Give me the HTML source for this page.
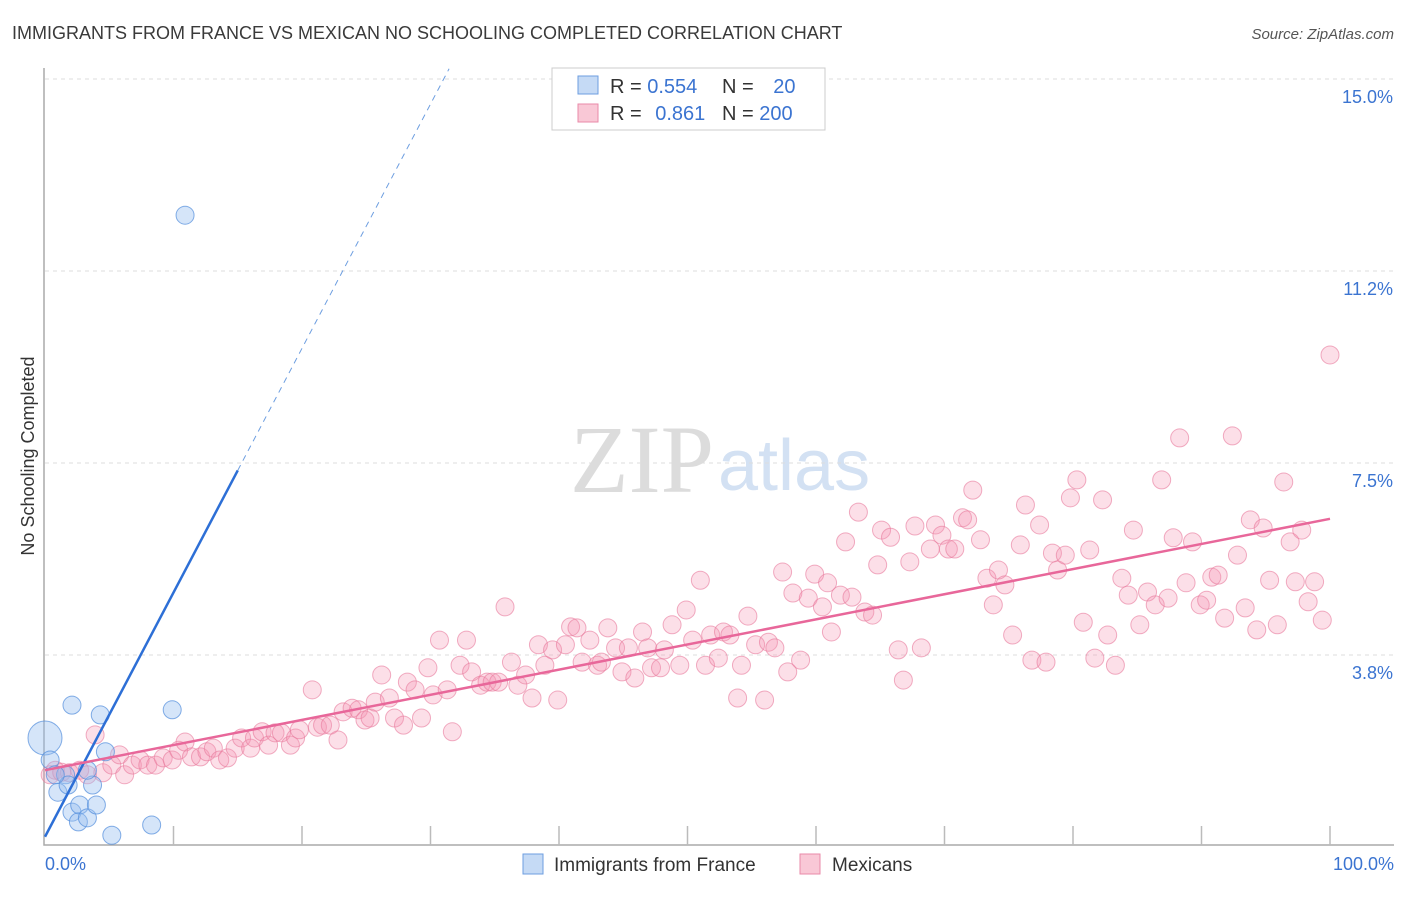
<!DOCTYPE html>
<html><head><meta charset="utf-8"><style>
body{margin:0;background:#fff;font-family:"Liberation Sans",sans-serif}
</style></head><body>
<svg id="chart" width="1406" height="892" xmlns="http://www.w3.org/2000/svg" font-family="Liberation Sans, sans-serif">
<text x="12" y="39" font-size="18" fill="#3a3a3a">IMMIGRANTS FROM FRANCE VS MEXICAN NO SCHOOLING COMPLETED CORRELATION CHART</text>
<text x="1394" y="39" font-size="15" fill="#555" font-style="italic" text-anchor="end">Source: ZipAtlas.com</text>
<text x="714" y="492" font-size="96" fill="#dcdcdc" style="font-family:'Liberation Serif',serif" text-anchor="end">ZIP</text>
<text x="718" y="490" font-size="72" fill="#d3e1f3">atlas</text>
<g id="grid"></g><g id="axes"></g>
<text transform="translate(34,456) rotate(-90)" font-size="18" fill="#333" text-anchor="middle">No Schooling Completed</text>
<g id="pink"></g><g id="blue"></g><g id="lines"></g>
<g>
<rect x="552" y="68" width="273" height="62" fill="#fff" stroke="#ccc"/>
<rect x="578" y="76" width="20" height="18" fill="#c5daf5" stroke="#6d9ee0"/>
<rect x="578" y="104" width="20" height="18" fill="#f9c8d6" stroke="#e98aa8"/>
<text x="610" y="93" font-size="20" fill="#333">R = <tspan fill="#3b74d1">0.554</tspan></text>
<text x="722" y="93" font-size="20" fill="#333">N = <tspan fill="#3b74d1" dx="14">20</tspan></text>
<text x="610" y="120" font-size="20" fill="#333">R = <tspan fill="#3b74d1" dx="8">0.861</tspan></text>
<text x="722" y="120" font-size="20" fill="#333">N = <tspan fill="#3b74d1">200</tspan></text>
</g>
<g>
<rect x="523" y="854" width="20" height="20" fill="#c5daf5" stroke="#6d9ee0"/>
<text x="554" y="871" font-size="19" fill="#333">Immigrants from France</text>
<rect x="800" y="854" width="20" height="20" fill="#f9c8d6" stroke="#e98aa8"/>
<text x="832" y="871" font-size="19" fill="#333">Mexicans</text>
</g>
</svg>
<script>
const yTicks=[3.75,7.5,11.25,15];
const yTickLabels=["3.8%","7.5%","11.2%","15.0%"];
const xTickVals=[10,20,30,40,50,60,70,80,90,100];
const blueX=[0,0.4,1.0,1.6,1.8,2.1,2.1,2.7,2.6,3.3,3.7,4.0,4.3,4.7,3.3,5.2,8.3,9.9,10.9,0.8];
const blueY=[2.13,1.70,1.07,1.41,1.21,2.77,0.68,0.82,0.49,0.57,1.21,0.82,2.58,1.86,1.50,0.23,0.43,2.68,12.34,1.41];
const pinkX=[0.4,0.8,1.3,1.9,2.7,3.3,3.9,4.5,5.2,5.8,6.2,6.8,7.4,8.0,8.6,9.2,9.9,10.4,10.9,11.4,12.1,12.6,13.1,13.6,14.2,14.8,15.3,16.0,16.3,16.9,17.4,17.9,18.4,19.1,19.5,19.8,20.8,21.2,21.6,22.2,22.8,23.2,23.9,24.4,24.9,25.3,25.7,26.2,26.8,27.2,27.9,28.2,28.8,29.3,29.8,30.2,30.7,31.3,31.7,32.3,32.8,33.2,33.9,34.4,34.8,35.3,35.8,36.3,36.8,37.4,37.9,38.4,38.9,39.5,39.9,40.5,40.9,41.4,41.8,42.4,43.0,43.3,43.8,44.4,44.9,45.4,45.9,46.5,46.9,47.2,47.9,48.2,48.8,49.4,49.9,50.4,51.0,51.4,51.8,52.4,52.8,53.3,53.9,54.2,54.7,55.3,56.0,56.3,56.8,57.4,57.8,58.2,58.8,59.4,59.9,60.5,60.9,61.2,61.9,62.3,62.8,63.3,63.8,64.4,64.8,65.1,65.8,66.4,66.8,67.3,67.7,68.2,68.9,69.3,69.8,70.3,70.8,71.4,71.8,72.2,72.8,73.3,73.8,74.2,74.7,75.3,75.9,76.3,76.8,77.4,77.9,78.4,78.8,79.4,79.8,80.3,80.8,81.3,81.7,82.3,82.7,83.3,83.8,84.3,84.7,85.2,85.8,86.4,86.9,87.4,87.8,88.3,88.8,89.3,89.9,90.4,90.8,91.3,91.8,92.4,92.8,93.4,93.8,94.3,94.8,95.3,95.9,96.4,96.9,97.3,97.8,98.3,98.8,99.4,100];
const pinkY=[1.41,1.50,1.46,1.45,1.50,1.41,2.19,1.45,1.60,1.80,1.41,1.60,1.70,1.60,1.60,1.74,1.70,1.89,2.05,1.76,1.76,1.86,1.93,1.70,1.74,1.93,2.13,1.93,2.13,2.25,1.99,2.23,2.23,1.99,2.13,2.29,3.07,2.34,2.38,2.38,2.09,2.64,2.71,2.68,2.48,2.52,2.83,3.36,2.91,2.52,2.38,3.22,3.07,2.52,3.50,2.97,4.04,3.07,2.25,3.55,4.04,3.42,3.16,3.22,3.22,3.22,4.69,3.61,3.16,3.36,2.91,3.95,3.55,3.85,2.87,3.95,4.30,4.28,3.61,4.04,3.55,3.61,4.28,3.89,3.42,3.89,3.30,4.20,3.89,3.50,3.50,3.85,4.34,3.55,4.63,4.04,5.21,3.55,4.14,3.69,4.20,4.14,2.91,3.55,4.51,3.95,2.87,4.00,3.89,5.37,3.42,4.96,3.65,4.86,5.33,4.69,5.16,4.20,4.92,5.96,4.88,6.54,4.59,4.53,5.51,6.19,6.05,3.85,3.26,5.57,6.27,3.89,5.82,6.29,6.09,5.82,5.82,6.43,6.39,6.97,6.00,5.25,4.73,5.41,5.12,4.14,5.90,6.68,3.65,6.29,3.61,5.74,5.41,5.70,6.82,7.17,4.39,5.80,3.69,6.78,4.14,3.55,5.25,4.92,6.19,4.34,4.98,4.73,7.17,4.86,6.04,7.99,5.16,5.96,4.73,4.82,5.27,5.31,4.47,8.03,5.70,4.67,6.39,4.24,6.23,5.21,4.34,7.13,5.96,5.18,6.19,4.79,5.18,4.43,9.61];
const blueTrend=[0.2,0.477];   // intercept, slope
const pinkTrend=[1.5,0.0491];
const NS="http://www.w3.org/2000/svg";
const sx=v=>45+v*12.85, sy=v=>847-v*51.2;
function mk(tag,attrs,parent){const e=document.createElementNS(NS,tag);for(const k in attrs)e.setAttribute(k,attrs[k]);document.getElementById(parent).appendChild(e);return e;}
yTicks.forEach((t,i)=>{
 const l=mk('line',{x1:45,x2:1394,y1:sy(t),y2:sy(t),stroke:'#ddd','stroke-dasharray':'4,4'},'grid');
 
 
 const tx=mk('text',{x:1393,y:sy(t)+24,'font-size':18,fill:'#3b74d1','text-anchor':'end'},'axes');
 tx.textContent=yTickLabels[i];
 
 
});
const ax=mk('path',{d:'M44,68 V845 H1394',fill:'none',stroke:'#aaa','stroke-width':1.5},'axes');


xTickVals.forEach(v=>{const t=mk('line',{x1:sx(v),x2:sx(v),y1:826,y2:845,stroke:'#bbb','stroke-width':1.5},'axes');
 
 });
[["0.0%",45,'start'],["100.0%",1394,'end']].forEach(a=>{const t=mk('text',{x:a[1],y:870,'font-size':18,fill:'#3b74d1','text-anchor':a[2]},'axes');t.textContent=a[0];
 
 });
pinkX.forEach((x,i)=>{const c=mk('circle',{cx:sx(x),cy:sy(pinkY[i]),r:9,fill:'rgba(244,150,180,0.3)',stroke:'rgba(232,120,155,0.6)','stroke-width':1},'pink');
 
 });
blueX.forEach((x,i)=>{const c=mk('circle',{cx:sx(x),cy:sy(blueY[i]),r:i===0?17:9,fill:'rgba(150,190,240,0.4)',stroke:'rgba(80,140,220,0.7)','stroke-width':1},'blue');
 
 });
const bx1=15.0, bx2=(15.2-blueTrend[0])/blueTrend[1];
const b1=mk('line',{x1:sx(0),y1:sy(blueTrend[0]),x2:sx(bx1),y2:sy(blueTrend[0]+blueTrend[1]*bx1),stroke:'#2d6fd6','stroke-width':2.5},'lines');


const b2=mk('line',{x1:sx(bx1),y1:sy(blueTrend[0]+blueTrend[1]*bx1),x2:sx(bx2),y2:sy(15.2),stroke:'#6d9ee0','stroke-width':1,'stroke-dasharray':'6,5'},'lines');


const p1=mk('line',{x1:sx(0),y1:sy(pinkTrend[0]),x2:sx(100),y2:sy(pinkTrend[0]+pinkTrend[1]*100),stroke:'#e8679a','stroke-width':2.5},'lines');


</script>
</body></html>
